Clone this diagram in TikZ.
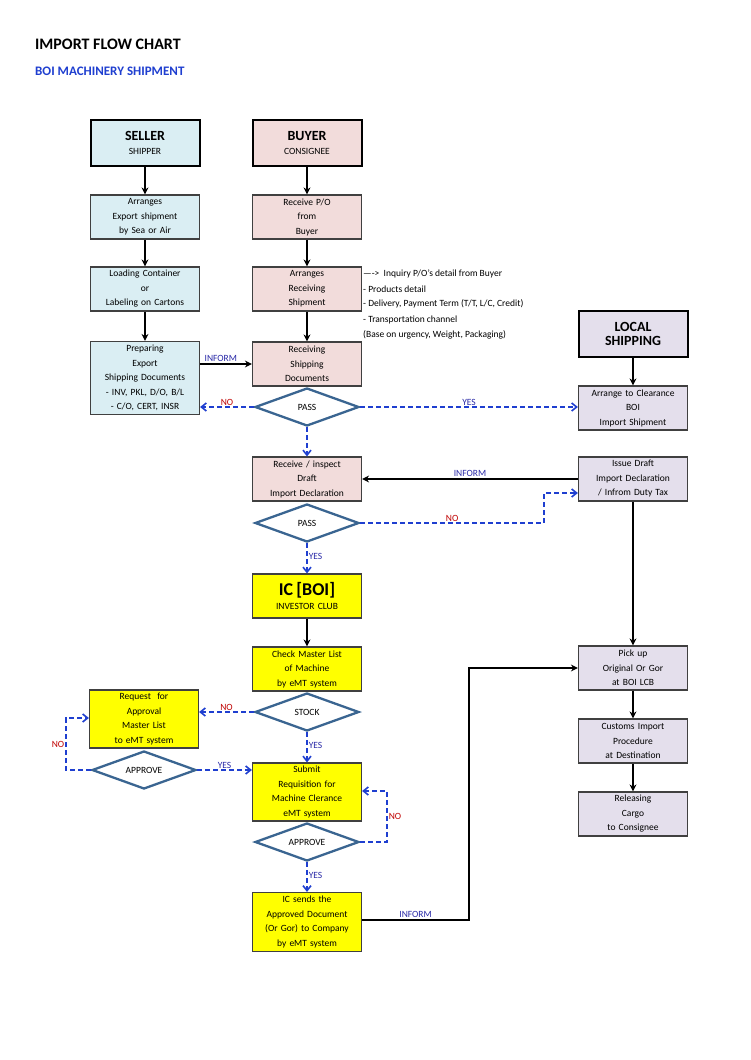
\documentclass[tikz,border=0pt]{standalone}
\usepackage{fontspec}
\setmainfont{Carlito}
\usetikzlibrary{shapes.geometric,arrows.meta}
\definecolor{sel}{HTML}{DAEEF3}
\definecolor{buy}{HTML}{F2DCDB}
\definecolor{loc}{HTML}{E4DFEC}
\definecolor{yel}{HTML}{FFFF00}
\definecolor{dia}{HTML}{3A6591}
\definecolor{dblue}{HTML}{1F3FD0}
\definecolor{lblue}{HTML}{2A2AA8}
\definecolor{lred}{HTML}{C00000}
\tikzset{
 box/.style={draw=black!75,line width=1.2pt,minimum width=109pt,text width=105pt,align=center,inner sep=1pt,font=\fontsize{9.5}{14.5}\selectfont},
 hdr/.style={box,line width=2pt,draw=black},
 dec/.style={diamond,draw=dia,line width=2.3pt,fill=white,minimum width=104pt,minimum height=38pt,inner sep=0pt,aspect=2.7,font=\fontsize{9.5}{11}\selectfont},
 arr/.style={draw=black,line width=2pt,-{Stealth[length=7pt,width=7pt]}},
 darr/.style={draw=dblue,line width=1.6pt,dash pattern=on 5pt off 3pt,-{Straight Barb[length=5pt,width=8pt]}},
 lb/.style={text=lblue,font=\fontsize{9.5}{11}\selectfont,inner sep=1pt},
 lr/.style={text=lred,font=\fontsize{9.5}{11}\selectfont,inner sep=1pt},
 note/.style={anchor=west,font=\fontsize{9.5}{11}\selectfont,inner sep=0pt}
}
\begin{document}
\begin{tikzpicture}[x=1pt,y=-1pt]
\useasboundingbox[fill=white] (0,0) rectangle (750,1060);
\node[anchor=west,font=\bfseries\fontsize{16}{18}\selectfont,inner sep=0] (t1) at (35,44) {IMPORT FLOW CHART};
\node[anchor=west,font=\bfseries\fontsize{13}{15}\selectfont,text=dblue,inner sep=0] (t2) at (35,71) {BOI MACHINERY SHIPMENT};
% seller column
\node[hdr,fill=sel,minimum height=46pt] (seller) at (145,143) {{\bfseries\fontsize{14}{18}\selectfont SELLER}\\SHIPPER};
\node[box,fill=sel,minimum height=44pt] (s1) at (145,217) {Arranges\\Export shipment\\by Sea or Air};
\node[box,fill=sel,minimum height=44pt] (s2) at (145,289) {Loading Container\\or\\Labeling on Cartons};
\node[box,fill=sel,minimum height=73pt] (s3) at (145,378) {Preparing\\Export\\Shipping Documents\\- INV, PKL, D/O, B/L\\- C/O, CERT, INSR};
% buyer column
\node[hdr,fill=buy,minimum height=46pt] (buyer) at (307,143) {{\bfseries\fontsize{14}{18}\selectfont BUYER}\\CONSIGNEE};
\node[box,fill=buy,minimum height=44pt] (b1) at (307,217) {Receive P/O\\from\\Buyer};
\node[box,fill=buy,minimum height=44pt] (b2) at (307,289) {Arranges\\Receiving\\Shipment};
\node[box,fill=buy,minimum height=44pt] (b3) at (307,364) {Receiving\\Shipping\\Documents};
\node[dec] (p1) at (307,407) {PASS};
\node[box,fill=buy,minimum height=44pt] (b4) at (307,479) {Receive / inspect\\Draft\\Import Declaration};
\node[dec] (p2) at (307,523) {PASS};
\node[box,fill=yel,minimum height=44pt] (ic) at (307,596) {{\bfseries\fontsize{18}{20}\selectfont IC [BOI]}\\[-1pt]INVESTOR CLUB};
\node[box,fill=yel,minimum height=44pt] (c1) at (307,669) {Check Master List\\of Machine\\by eMT system};
\node[dec] (st) at (307,712) {STOCK};
\node[box,fill=yel,minimum height=58pt] (sub) at (307,792) {Submit\\Requisition for\\Machine Clerance\\eMT system};
\node[dec] (ap) at (307,842) {APPROVE};
\node[box,fill=yel,minimum height=59pt] (ics) at (307,922) {IC sends the\\Approved Document\\(Or Gor) to Company\\by eMT system};
% left
\node[box,fill=yel,minimum height=58pt] (req) at (144,719) {Request~ for\\Approval\\Master List\\to eMT system};
\node[dec] (apl) at (144,770) {APPROVE};
% local shipping
\node[hdr,fill=loc,minimum height=46pt] (loc) at (633,334) {\bfseries\fontsize{14}{17}\selectfont LOCAL\\SHIPPING};
\node[box,fill=loc,minimum height=44pt] (l1) at (633,408) {Arrange to Clearance\\BOI\\Import Shipment};
\node[box,fill=loc,minimum height=44pt] (l2) at (633,479) {Issue Draft\\Import Declaration\\/ Infrom Duty Tax};
\node[box,fill=loc,minimum height=44pt] (l3) at (633,668) {Pick up\\Original Or Gor\\at BOI LCB};
\node[box,fill=loc,minimum height=44pt] (l4) at (633,741) {Customs Import\\Procedure\\at Destination};
\node[box,fill=loc,minimum height=44pt] (l5) at (633,814) {Releasing\\Cargo\\to Consignee};
% notes
\node[note] (n1) at (363,274) {----> ~Inquiry P/O's detail from Buyer};
\node[note] (n2) at (363,289) {- Products detail};
\node[note] (n3) at (363,304) {- Delivery, Payment Term (T/T, L/C, Credit)};
\node[note] (n4) at (363,320) {- Transportation channel};
\node[note] (n5) at (363,335) {(Base on urgency, Weight, Packaging)};
% black arrows
\draw[arr] (seller) -- (s1);
\draw[arr] (s1) -- (s2);
\draw[arr] (s2) -- (s3);
\draw[arr] (buyer) -- (b1);
\draw[arr] (b1) -- (b2);
\draw[arr] (b2) -- (b3);
\draw[arr] (s3.east |- b3.west) -- node[lb,above,pos=0.4]{INFORM} (b3.west);
\draw[arr] (loc) -- (l1);
\draw[arr] (l2.west) -- node[lb,above,pos=0.5]{INFORM} (b4.east);
\draw[arr] (ic) -- (c1);
\draw[arr] (l2) -- (l3);
\draw[arr] (l3) -- (l4);
\draw[arr] (l4) -- (l5);
\coordinate (k1) at (469,920);
\coordinate (k2) at (469,668);
\draw[arr] (ics.east |- k1) -- node[lb,above,pos=0.5]{INFORM} (k1) -- (k2) -- (l3.west);
% dashed
\draw[darr] (p1.west) -- node[lr,above,pos=0.5]{NO} (s3.east |- p1.west);
\draw[darr] (p1.east) -- node[lb,above,pos=0.5]{YES} (l1.west |- p1.east);
\draw[darr] (p1.south) -- (b4.north);
\coordinate (q1) at (544,523);
\coordinate (q2) at (544,493);
\draw[darr] (p2.east) -- node[lr,above,pos=0.5]{NO} (q1) -- (q2) -- (l2.west |- q2);
\draw[darr] (p2.south) -- node[lb,right,pos=0.45]{YES} (ic.north);
\draw[darr] (st.west) -- node[lr,above,pos=0.5]{NO} (req.east |- st.west);
\draw[darr] (st.south) -- node[lb,right,pos=0.45]{YES} (sub.north);
\draw[darr] (apl.east) -- node[lb,above,pos=0.5]{YES} (sub.west |- apl.east);
\coordinate (r1) at (66,770);
\coordinate (r2) at (66,718);
\draw[darr] (apl.west) -- (r1) -- node[lr,left,pos=0.5]{NO} (r2) -- (req.west |- r2);
\coordinate (u1) at (387,842);
\coordinate (u2) at (387,791);
\draw[darr] (ap.east) -- (u1) -- node[lr,right,pos=0.5]{NO} (u2) -- (sub.east |- u2);
\draw[darr] (ap.south) -- node[lb,right,pos=0.45]{YES} (ics.north);
\end{tikzpicture}
\end{document}
